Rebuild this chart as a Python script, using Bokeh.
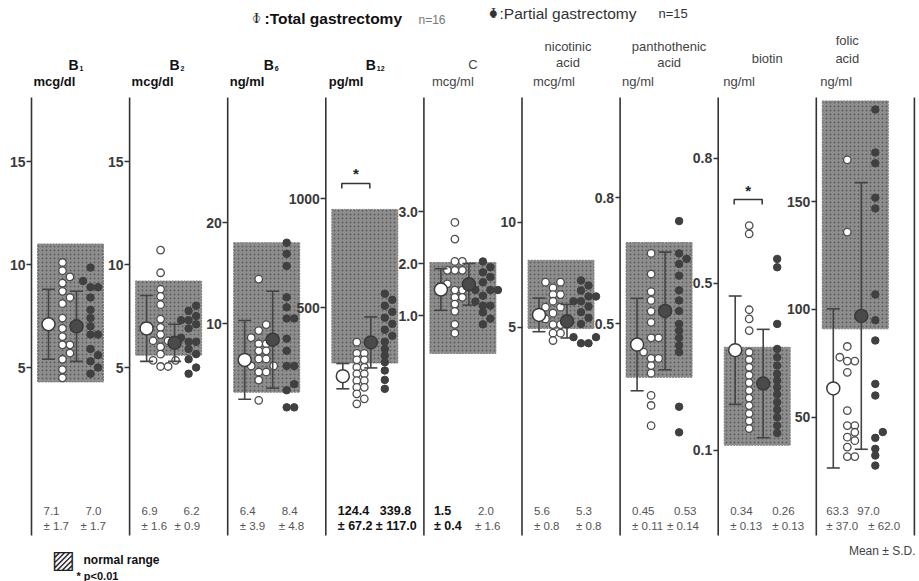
import numpy as np
from bokeh.plotting import figure
from bokeh.models import Range1d, LinearAxis, FixedTicker, PrintfTickFormatter, Label
from bokeh.embed import file_html
from bokeh.resources import INLINE

# ---------------- data ----------------
title_lines = [["B"], ["B"], ["B"], ["B"], ["C"], ["nicotinic", "acid"],
               ["panthothenic", "acid"], ["biotin"], ["folic", "acid"]]
title_sub = ["1", "2", "6", "12", "", "", "", "", ""]
units = ["mcg/dl", "mcg/dl", "ng/ml", "pg/ml", "mcg/ml", "mcg/ml", "ng/ml", "ng/ml", "ng/ml"]
tick_values = [[5, 10, 15], [5, 10, 15], [10, 20], [500, 1000], [1.0, 2.0, 3.0],
               [5, 10], [0.5, 0.8], [0.1, 0.5, 0.8], [50, 100, 150]]
tick_format = ["%d", "%d", "%d", "%d", "%.1f", "%d", "%.1f", "%.1f", "%d"]
# value range covered by the full height of each panel
axis_lo = [-5.39, -5.39, -15.54, -756.9, -4.115, -7.095, -0.114, -0.215, -26.5]
axis_hi = [22.82, 22.82, 41.98, 1908.3, 7.058, 20.571, 1.269, 1.179, 243.7]

normal_low = [4.3, 5.6, 3.2, 245, 0.27, 4.95, 0.372, 0.112, 91]
normal_high = [11.0, 9.2, 18.0, 950, 2.02, 8.2, 0.693, 0.347, 197]

total_vals = [
    [10.1, 9.7, 9.4, 9.1, 8.7, 8.4, 8.1, 7.4, 6.9, 6.5, 6.1, 6.1, 5.7, 5.4, 4.9, 4.5],
    [10.7, 9.6, 8.8, 8.45, 8.05, 7.35, 6.95, 6.6, 6.3, 6.3, 6.0, 5.65, 5.35, 5.35, 5.05, 5.05],
    [14.4, 9.9, 9.3, 8.6, 8.0, 8.0, 7.3, 7.3, 6.5, 6.5, 5.8, 5.8, 5.2, 5.2, 4.4, 2.4],
    [341, 290, 290, 260, 260, 226, 226, 196, 196, 165, 165, 134, 134, 104, 81, 58],
    [2.79, 2.47, 2.04, 2.04, 1.87, 1.87, 1.87, 1.61, 1.49, 1.49, 1.35, 1.35, 1.22, 1.08, 0.83, 0.66],
    [7.16, 7.16, 6.89, 6.57, 6.57, 6.25, 5.97, 5.97, 5.68, 5.41, 5.41, 5.14, 5.14, 4.73, 4.73, 4.38],
    [0.667, 0.618, 0.576, 0.555, 0.529, 0.503, 0.466, 0.466, 0.432, 0.417, 0.417, 0.40, 0.382, 0.329, 0.305, 0.257],
    [0.639, 0.619, 0.437, 0.415, 0.387, 0.335, 0.317, 0.299, 0.28, 0.262, 0.243, 0.225, 0.207, 0.188, 0.17, 0.152],
    [169.6, 136, 82.8, 77.8, 76, 76, 70.8, 53, 46, 46, 42.9, 40.6, 39, 36, 31.6, 31.6],
]
partial_vals = [
    [9.85, 9.2, 8.9, 8.9, 8.4, 7.8, 7.4, 7.0, 6.6, 6.6, 5.9, 5.6, 5.3, 5.0, 4.7],
    [8.0, 7.75, 7.5, 7.3, 7.3, 7.1, 6.9, 6.45, 6.25, 6.25, 5.9, 5.65, 5.4, 5.0, 4.7],
    [18.0, 16.9, 15.7, 12.6, 11.6, 10.5, 10.5, 8.5, 7.3, 5.8, 5.8, 4.0, 3.4, 1.7, 1.7],
    [563, 535, 508, 480, 453, 425, 398, 370, 343, 310, 280, 249, 211, 168, 127],
    [2.04, 1.93, 1.83, 1.74, 1.64, 1.49, 1.49, 1.49, 1.38, 1.27, 1.19, 1.19, 1.06, 0.94, 0.83],
    [7.24, 7.0, 6.76, 6.48, 6.48, 6.25, 6.25, 6.0, 5.73, 5.46, 5.17, 4.54, 4.54, 4.25, 4.25],
    [0.744, 0.667, 0.654, 0.642, 0.614, 0.579, 0.555, 0.53, 0.499, 0.483, 0.466, 0.448, 0.432, 0.302, 0.241],
    [0.559, 0.539, 0.403, 0.343, 0.323, 0.303, 0.283, 0.267, 0.251, 0.234, 0.215, 0.197, 0.179, 0.159, 0.141],
    [193, 173, 168, 152, 147, 107, 95, 85.6, 65.4, 60, 43, 40.3, 35.2, 32.1, 27.4],
]
# mean +- SD as drawn
mean_total = [7.1, 6.9, 6.4, 185, 1.5, 5.6, 0.45, 0.34, 63.3]
sd_total = [1.7, 1.6, 3.9, 58, 0.4, 0.8, 0.11, 0.13, 37.0]
mean_partial = [7.0, 6.2, 8.4, 339.8, 1.6, 5.3, 0.53, 0.26, 97.0]
sd_partial = [1.7, 0.9, 4.8, 117.0, 0.4, 0.8, 0.14, 0.13, 62.0]
significant = [False, False, False, True, False, False, False, True, False]

# printed mean +- SD
label_total = ["7.1", "6.9", "6.4", "124.4", "1.5", "5.6", "0.45", "0.34", "63.3"]
label_total_sd = ["± 1.7", "± 1.6", "± 3.9", "± 67.2", "± 0.4", "± 0.8", "± 0.11", "± 0.13", "± 37.0"]
label_partial = ["7.0", "6.2", "8.4", "339.8", "2.0", "5.3", "0.53", "0.26", "97.0"]
label_partial_sd = ["± 1.7", "± 0.9", "± 4.8", "± 117.0", "± 1.6", "± 0.8", "± 0.14", "± 0.13", "± 62.0"]
label_bold = [(False, False), (False, False), (False, False), (True, True), (True, False),
              (False, False), (False, False), (False, False), (False, False)]

# ---------------- layout ----------------
W, H = 919, 581
LINE_TOP, LINE_BOT = 97, 535
FONT = "Liberation Sans"
DARK = "#333333"
GREY = "#555555"

p = figure(width=W, height=H, x_range=Range1d(0, W), y_range=Range1d(H, 0),
           output_backend="svg", toolbar_location=None, x_axis_type=None, y_axis_type=None,
           min_border_left=0, min_border_right=0, min_border_top=0, min_border_bottom=0)
p.outline_line_color = None
p.background_fill_color = "white"
p.border_fill_color = "white"


def lab(x, y, text, size=13, bold=False, color=DARK, align="left", font=FONT, **kw):
    p.add_layout(Label(x=x, y=y, text=text, text_font=font, text_font_size=f"{size}px",
                       text_font_style="bold" if bold else "normal", text_color=color,
                       text_align=align, text_baseline="middle", **kw))


step = 98.1
x0 = 31
frame_px = H

title_dx = [42, 45, 41, 45, 49, 46, 49, 49, 31]
title_y = [[64], [64], [64], [64], [64], [46, 62], [46, 62], [58], [40, 58]]
unit_dx = [2, 2, 2, 3, 8, 11, 2, 5, 4]
c2_sd_dx = [49, 45, 51, 50, 51, 54, 47, 54, 52]


def swarm(vals, base, k, d=6.5, off=7.5):
    order = np.argsort(vals)
    xs = np.zeros(len(vals))
    placed = []
    for idx in order:
        ypx = vals[idx] * k
        for o in [0, off, -off, 2 * off]:
            x = base + o
            if all((x - px) ** 2 + (ypx - py) ** 2 >= d * d for px, py in placed):
                break
        xs[idx] = x
        placed.append((x, ypx))
    return xs


line_xs = [x0 + step * i for i in range(10)]
p.segment(x0=line_xs, y0=[LINE_TOP] * 10, x1=line_xs, y1=[LINE_BOT] * 10,
          line_color=DARK, line_width=1.6)

for i in range(9):
    lx = line_xs[i]
    rn = f"r{i}"
    p.extra_y_ranges[rn] = Range1d(axis_lo[i], axis_hi[i])
    k = frame_px / (axis_hi[i] - axis_lo[i])

    ax = LinearAxis(y_range_name=rn, fixed_location=lx,
                    ticker=FixedTicker(ticks=tick_values[i]),
                    formatter=PrintfTickFormatter(format=tick_format[i]),
                    major_tick_out=5, major_tick_in=0, minor_tick_out=0, minor_tick_in=0,
                    major_label_standoff=1, axis_line_color=None,
                    major_tick_line_color=DARK, major_tick_line_width=1.3,
                    major_label_text_font=FONT, major_label_text_font_size="14px",
                    major_label_text_color="#3a3a3a", major_label_text_font_style="bold")
    p.add_layout(ax, "left")

    # normal range
    p.quad(left=lx + 6, right=lx + 72, bottom=normal_low[i], top=normal_high[i], y_range_name=rn,
           fill_color="#8e8e8e", line_color="#808080", line_width=1, line_dash="2 1",
           hatch_pattern="dot", hatch_color="#5e5e5e", hatch_scale=4, hatch_weight=1.2)

    # individual values
    tv = np.array(total_vals[i], dtype=float)
    pv = np.array(partial_vals[i], dtype=float)
    p.scatter(swarm(tv, lx + 31, k), tv, y_range_name=rn, size=7.5, marker="circle",
              fill_color="white", line_color="#4d4d4d", line_width=1.3)
    p.scatter(swarm(pv, lx + 59, k), pv, y_range_name=rn, size=7.5, marker="circle",
              fill_color="#404040", line_color="#404040", line_width=1)

    # mean +- SD
    for mx, m, s, filled in [(lx + 17, mean_total[i], sd_total[i], False),
                             (lx + 45, mean_partial[i], sd_partial[i], True)]:
        p.segment(x0=[mx], y0=[m - s], x1=[mx], y1=[m + s], y_range_name=rn,
                  line_color="#444444", line_width=1.6)
        p.segment(x0=[mx - 6.5, mx - 6.5], y0=[m - s, m + s], x1=[mx + 6.5, mx + 6.5],
                  y1=[m - s, m + s], y_range_name=rn, line_color="#444444", line_width=1.6)
        p.scatter([mx], [m], y_range_name=rn, size=13, marker="circle",
                  fill_color="#4a4a4a" if filled else "white", line_color="#3a3a3a",
                  line_width=1.5)

    # significance bracket
    if significant[i]:
        top_val = max(normal_high[i], tv.max(), pv.max(), mean_total[i] + sd_total[i],
                      mean_partial[i] + sd_partial[i])
        by = top_val + 26 / k
        tk = 5 / k
        p.multi_line(xs=[[lx + 16, lx + 16, lx + 44, lx + 44]],
                     ys=[[by - tk, by, by, by - tk]], y_range_name=rn,
                     line_color="#333333", line_width=1.5)
        p.add_layout(Label(x=lx + 30, y=by, y_range_name=rn, text="*", y_offset=1,
                           text_font=FONT, text_font_size="15px", text_font_style="bold",
                           text_color="#222222", text_align="center", text_baseline="bottom"))

    # titles
    isB = title_sub[i] != ""
    for j, line in enumerate(title_lines[i]):
        lab(lx + title_dx[i], title_y[i][j], line, size=14 if isB else 13, bold=isB,
            color="#111111" if isB else "#444444", align="center")
    if isB:
        lab(lx + title_dx[i] + 6, 68, title_sub[i], size=7, bold=True, color="#111111")
    lab(lx + unit_dx[i], 81, units[i], size=13, bold=isB,
        color="#111111" if isB else "#444444")

    # printed means
    b1, b2 = label_bold[i]
    c2_val = 41 if i == 8 else 54
    c1 = 10 if i in (4, 8) else 12
    for (tx, ty, txt, b) in [(lx + c1, 510, label_total[i], b1),
                             (lx + c1, 525, label_total_sd[i], b1),
                             (lx + c2_val, 510, label_partial[i], b2),
                             (lx + c2_sd_dx[i], 525, label_partial_sd[i], b2)]:
        lab(tx, ty, txt, size=12.5 if b else 11.5, bold=b, color="#111111" if b else GREY)

# top legend
lab(256, 17, "I", size=15, font="Liberation Serif", color="#222222", align="center")
lab(256, 17, "○", size=9, font="DejaVu Sans", color="#222222", align="center")
lab(264, 18, ":Total gastrectomy", size=15.5, bold=True, color="#111111")
lab(418, 19, "n=16", size=12, color="#777777")
lab(493, 12, "I", size=15, font="Liberation Serif", color="#333333", align="center")
lab(493, 12, "●", size=9, font="DejaVu Sans", color="#333333", align="center")
lab(499, 13, ":Partial gastrectomy", size=15.5, color="#333333")
lab(658, 13, "n=15", size=13, color="#333333")

# bottom legend
lab(63, 559, "▨", size=25, font="DejaVu Sans", color="#222222", align="center")
lab(83, 559, "normal range", size=12, bold=True, color="#111111")
lab(76, 575, "* p<0.01", size=11, bold=True, color="#111111")
lab(915, 550, "Mean ± S.D.", size=12, color="#444444", align="right")

open("out.html", "w").write(file_html(p, INLINE))
